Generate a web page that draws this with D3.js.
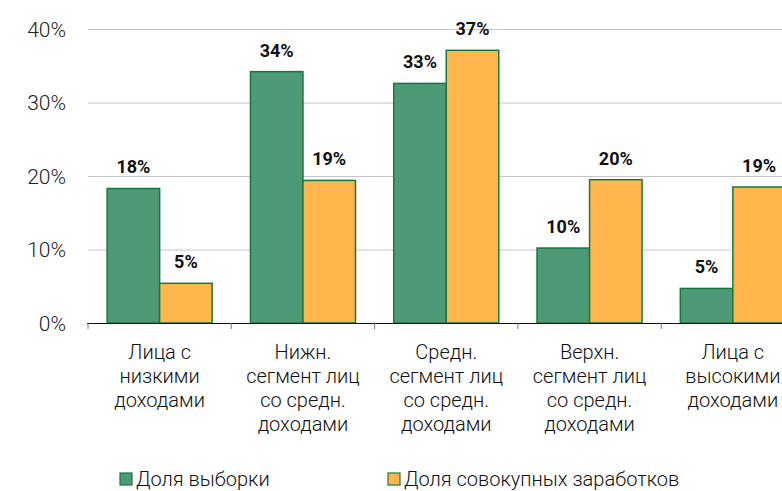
<!DOCTYPE html>
<html>
<head>
<meta charset="utf-8">
<script src="https://cdn.jsdelivr.net/npm/d3@7"></script>
<style>
  body { margin: 0; background: #fff; }
  svg { display: block; font-family: Roboto, "Open Sans", sans-serif; }
</style>
</head>
<body>
<div id="chart-area"></div>
<script>
// data
const categories = [
  "Лица с\nнизкими\nдоходами",
  "Нижн.\nсегмент лиц\nсо средн.\nдоходами",
  "Средн.\nсегмент лиц\nсо средн.\nдоходами",
  "Верхн.\nсегмент лиц\nсо средн.\nдоходами",
  "Лица с\nвысокими\nдоходами"
]
const seriesNames = ["Доля выборки", "Доля совокупных заработков"]
const sampleShare = [18.3, 34.2, 32.6, 10.2, 4.7]
const earningsShare = [5.4, 19.4, 37.1, 19.5, 18.5]
const sampleLabels = ["18%", "34%", "33%", "10%", "5%"]
const earningsLabels = ["5%", "19%", "37%", "20%", "19%"]
const yTicks = [0, 10, 20, 30, 40]

const colors = ["#4f9a76", "#ffb74d"]
const strokeColor = "#17783f"

const W = 782, H = 491
const plotLeft = 88, plotTop = 29, plotBottom = 323
const step = 143.3

const svg = d3.select("#chart-area").append("svg")
  .attr("width", W)
  .attr("height", H)

const y = d3.scaleLinear()
  .domain([0, 40])
  .range([plotBottom, plotTop])

const x0 = d3.scaleBand()
  .domain(categories)
  .range([plotLeft, plotLeft + step * categories.length])
  .paddingInner(0.267)
  .paddingOuter(0.1335)

const x1 = d3.scaleBand()
  .domain(seriesNames)
  .range([0, x0.bandwidth()])

// gridlines
svg.append("g")
  .selectAll("line")
  .data(yTicks.filter(d => d > 0))
  .enter().append("line")
  .attr("x1", plotLeft)
  .attr("x2", W)
  .attr("y1", d => y(d) + 0.5)
  .attr("y2", d => y(d) + 0.5)
  .attr("stroke", "#c6c6c6")
  .attr("stroke-width", 1)

// y labels
svg.append("g")
  .selectAll("text")
  .data(yTicks)
  .enter().append("text")
  .attr("x", 66)
  .attr("y", d => y(d) + 7.5)
  .attr("text-anchor", "end")
  .attr("font-size", "21px")
  .attr("font-weight", 300)
  .attr("fill", "#222")
  .text(d => d + "%")

// bars
const rows = categories.map((c, i) => ({
  cat: c,
  vals: [
    { s: seriesNames[0], v: sampleShare[i], label: sampleLabels[i] },
    { s: seriesNames[1], v: earningsShare[i], label: earningsLabels[i] }
  ]
}))

const groups = svg.selectAll(".grp")
  .data(rows)
  .enter().append("g")
  .attr("class", "grp")
  .attr("transform", d => `translate(${x0(d.cat)},0)`)

groups.selectAll("rect")
  .data(d => d.vals)
  .enter().append("rect")
  .attr("x", d => x1(d.s))
  .attr("y", d => y(d.v))
  .attr("width", x1.bandwidth())
  .attr("height", d => y(0) - y(d.v))
  .attr("fill", (d, i) => colors[i])
  .attr("stroke", strokeColor)
  .attr("stroke-width", 1.5)

groups.selectAll(".lbl")
  .data(d => d.vals)
  .enter().append("text")
  .attr("class", "lbl")
  .attr("x", d => x1(d.s) + x1.bandwidth() / 2)
  .attr("y", d => y(d.v) - 15)
  .attr("text-anchor", "middle")
  .attr("font-size", "18px")
  .attr("font-weight", 700)
  .attr("fill", "#111")
  .text(d => d.label)

// x axis line and boundary ticks
svg.append("line")
  .attr("x1", plotLeft - 1)
  .attr("x2", W)
  .attr("y1", plotBottom + 0.5)
  .attr("y2", plotBottom + 0.5)
  .attr("stroke", "#111")
  .attr("stroke-width", 1.2)

svg.append("g")
  .selectAll("line")
  .data(d3.range(categories.length + 1))
  .enter().append("line")
  .attr("x1", i => plotLeft + step * i)
  .attr("x2", i => plotLeft + step * i)
  .attr("y1", plotBottom)
  .attr("y2", plotBottom + 6)
  .attr("stroke", "#777")

// category labels
const catText = svg.append("g")
  .selectAll("text")
  .data(categories)
  .enter().append("text")
  .attr("text-anchor", "middle")
  .attr("font-size", "20px")
  .attr("font-weight", 300)
  .attr("fill", "#111")
  .attr("transform", d => `translate(${x0(d) + x0.bandwidth() / 2},359)`)

catText.selectAll("tspan")
  .data(d => d.split("\n"))
  .enter().append("tspan")
  .attr("x", 0)
  .attr("dy", (d, i) => i === 0 ? 0 : 24)
  .text(d => d)

// legend
const legendX = [120, 388]
const legend = svg.selectAll(".leg")
  .data(seriesNames)
  .enter().append("g")
  .attr("class", "leg")
  .attr("transform", (d, i) => `translate(${legendX[i]},473)`)

legend.append("rect")
  .attr("width", 12)
  .attr("height", 12)
  .attr("fill", (d, i) => colors[i])
  .attr("stroke", strokeColor)
  .attr("stroke-width", 1.2)

legend.append("text")
  .attr("x", 16)
  .attr("y", 13)
  .attr("font-size", "20px")
  .attr("font-weight", 300)
  .attr("fill", "#111")
  .text(d => d)
</script>
</body>
</html>
